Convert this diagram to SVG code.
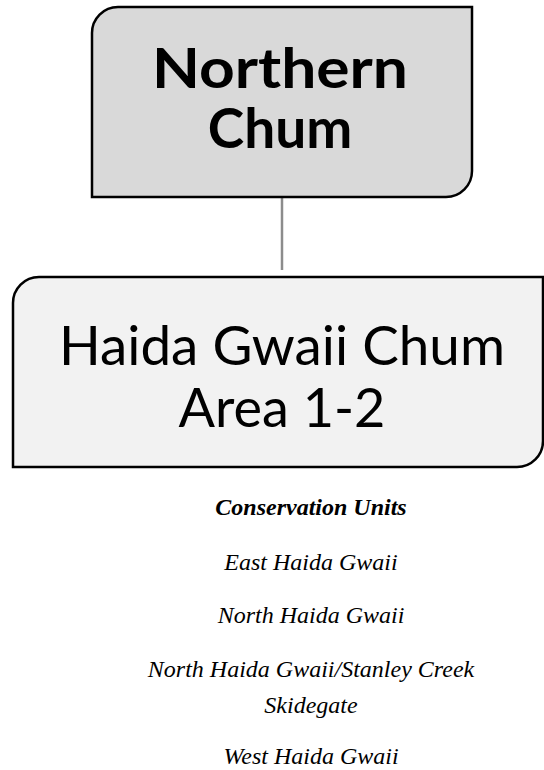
<svg xmlns="http://www.w3.org/2000/svg" width="544" height="770" viewBox="0 0 544 770">
<style>
.box{stroke:#000;stroke-width:2.5}
.title{font-family:Lato,"Liberation Sans",sans-serif;fill:#000;text-anchor:middle}
.cu{font-family:"Liberation Serif",serif;font-style:italic;font-size:24px;fill:#000;text-anchor:middle}
.conn{stroke:#8c8c8c;stroke-width:2.5;fill:none}
</style>
<rect width="544" height="770" fill="#fff"/>
<g id="connectors">
<line class="conn" x1="282" y1="197" x2="282" y2="270"/>
</g>
<g id="node-northern-chum">
<path class="box" fill="#d9d9d9" d="M92,197 V33 A26,26 0 0 1 118,7 H472 V171 A26,26 0 0 1 446,197 Z"/>
<text class="title" x="280" y="88" font-size="55" font-weight="bold" textLength="256" lengthAdjust="spacingAndGlyphs">Northern</text>
<text class="title" x="280" y="148" font-size="55" font-weight="bold">Chum</text>
</g>
<g id="node-haida-gwaii">
<path class="box" fill="#f2f2f2" d="M13,467 V303 A26,26 0 0 1 39,277 H543 V441 A26,26 0 0 1 517,467 Z"/>
<text class="title" x="282" y="365" font-size="54" textLength="446" lengthAdjust="spacingAndGlyphs">Haida Gwaii Chum</text>
<text class="title" x="282" y="427" font-size="54">Area 1-2</text>
</g>
<g id="conservation-units">
<text class="cu" x="311" y="515" font-size="25" font-weight="bold">Conservation Units</text>
<text class="cu" x="311" y="570">East Haida Gwaii</text>
<text class="cu" x="311" y="623">North Haida Gwaii</text>
<text class="cu" x="311" y="677">North Haida Gwaii/Stanley Creek</text>
<text class="cu" x="311" y="713">Skidegate</text>
<text class="cu" x="311" y="764">West Haida Gwaii</text>
</g>
</svg>
